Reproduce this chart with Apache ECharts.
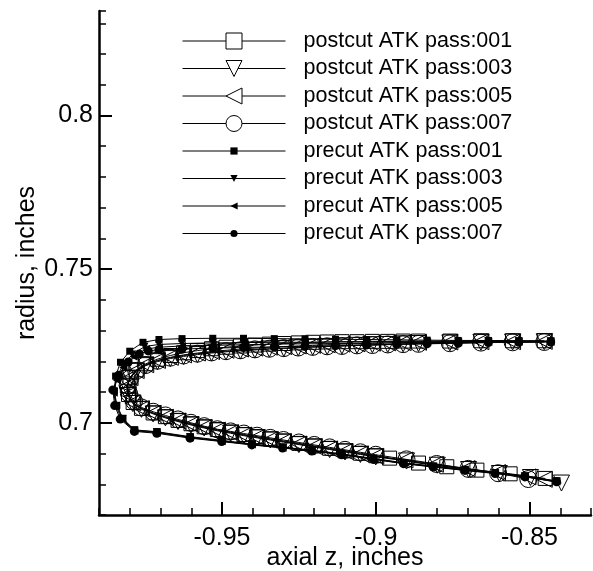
<!DOCTYPE html>
<html><head><meta charset="utf-8">
<script src="https://cdn.jsdelivr.net/npm/echarts@6/dist/echarts.min.js"></script>
<style>html,body{margin:0;padding:0;background:#fff}#c{width:593px;height:571px}</style>
</head><body><div id="c"></div>
<script>
// ---- tick labels ----
const xMajor = [-0.95, -0.9, -0.85];
const yMajor = [0.7, 0.75, 0.8];
const seriesNames = ['postcut ATK pass:001','postcut ATK pass:003','postcut ATK pass:005','postcut ATK pass:007',
  'precut ATK pass:001','precut ATK pass:003','precut ATK pass:005','precut ATK pass:007'];

// ---- postcut (shared grid positions) ----
const postZUpper = [-0.8452,-0.8555,-0.8658,-0.8759,-0.8861,-0.8911,-0.8961,-0.9011,-0.9061,-0.9110,-0.9158,-0.9205,-0.9252,-0.9299,-0.9346,-0.9393,-0.9440,-0.9487,-0.9534,-0.9580,-0.9625,-0.9668,-0.9710,-0.9748,-0.9779,-0.9799];
const postZLower = [-0.9762,-0.9724,-0.9684,-0.9643,-0.9601,-0.9558,-0.9515,-0.9472,-0.9429,-0.9386,-0.9343,-0.9300,-0.9250,-0.9200,-0.9150,-0.9100,-0.9050,-0.9000];

const post001Upper = [0.7267,0.7267,0.7267,0.7266,0.7266,0.7266,0.7265,0.7265,0.7264,0.7264,0.7263,0.7262,0.7260,0.7258,0.7256,0.7253,0.7250,0.7246,0.7241,0.7235,0.7228,0.7219,0.7207,0.7192,0.7172,0.7148];
const post003Upper = [0.7264,0.7263,0.7262,0.7260,0.7258,0.7257,0.7255,0.7254,0.7252,0.7250,0.7248,0.7246,0.7244,0.7242,0.7240,0.7237,0.7234,0.7231,0.7227,0.7222,0.7216,0.7209,0.7199,0.7186,0.7168,0.7145];
const post005Upper = [0.7265,0.7264,0.7264,0.7263,0.7262,0.7261,0.7260,0.7259,0.7257,0.7256,0.7254,0.7252,0.7250,0.7248,0.7246,0.7243,0.7240,0.7236,0.7232,0.7227,0.7221,0.7213,0.7203,0.7189,0.7170,0.7147];
const post007Upper = [0.7263,0.7262,0.7261,0.7259,0.7257,0.7256,0.7255,0.7253,0.7252,0.7250,0.7249,0.7247,0.7245,0.7243,0.7241,0.7239,0.7236,0.7233,0.7229,0.7225,0.7219,0.7212,0.7202,0.7188,0.7169,0.7144];

const post001Nose = [[-0.9808,0.7120],[-0.9804,0.7092],[-0.9789,0.7066]];
const post003Nose = [[-0.9810,0.7117],[-0.9806,0.7089],[-0.9791,0.7063]];
const post005Nose = [[-0.9809,0.7119],[-0.9805,0.7091],[-0.9790,0.7065]];
const post007Nose = [[-0.9807,0.7122],[-0.9802,0.7095],[-0.9786,0.7070]];

const post001Lower = [0.7047,0.7032,0.7020,0.7008,0.6997,0.6987,0.6978,0.6970,0.6962,0.6955,0.6948,0.6941,0.6933,0.6925,0.6917,0.6909,0.6901,0.6893];
const post003Lower = [0.7044,0.7029,0.7016,0.7004,0.6993,0.6983,0.6974,0.6966,0.6958,0.6951,0.6944,0.6937,0.6929,0.6921,0.6913,0.6905,0.6897,0.6889];
const post005Lower = [0.7046,0.7031,0.7018,0.7006,0.6995,0.6985,0.6976,0.6968,0.6960,0.6953,0.6946,0.6939,0.6931,0.6923,0.6915,0.6907,0.6899,0.6891];
const post007Lower = [0.7050,0.7036,0.7024,0.7011,0.7000,0.6989,0.6979,0.6972,0.6965,0.6958,0.6951,0.6944,0.6936,0.6928,0.6920,0.6912,0.6904,0.6896];

const post001Tail = [[-0.8955,0.6885],[-0.8861,0.6869],[-0.8769,0.6857],[-0.8671,0.6846],[-0.8563,0.6834],[-0.8449,0.6819]];
const post003Tail = [[-0.8900,0.6876],[-0.8800,0.6862],[-0.8698,0.6848],[-0.8598,0.6835],[-0.8497,0.6822],[-0.8396,0.6804]];
const post005Tail = [[-0.8905,0.6879],[-0.8806,0.6865],[-0.8703,0.6851],[-0.8604,0.6838],[-0.8505,0.6824],[-0.8452,0.6816]];
const post007Tail = [[-0.8900,0.6881],[-0.8802,0.6866],[-0.8699,0.6850],[-0.8602,0.6836],[-0.8504,0.6817]];

// ---- precut (shared grid positions) ----
const preZUpper = [-0.8431,-0.8535,-0.8634,-0.8732,-0.8833,-0.8932,-0.9030,-0.9131,-0.9230,-0.9330,-0.9430,-0.9530,-0.9630,-0.9705];
const preZLower = [-0.9785,-0.9712,-0.9604,-0.9501,-0.9403,-0.9303,-0.9208,-0.9111,-0.9008,-0.8910,-0.8813,-0.8710,-0.8612,-0.8515,-0.8412];

const pre001Upper = [0.7266,0.7267,0.7268,0.7268,0.7269,0.7270,0.7271,0.7272,0.7273,0.7274,0.7275,0.7275,0.7274,0.7271];
const pre003Upper = [0.7265,0.7265,0.7265,0.7264,0.7264,0.7264,0.7263,0.7263,0.7262,0.7262,0.7261,0.7260,0.7258,0.7255];
const pre005Upper = [0.7264,0.7264,0.7263,0.7262,0.7261,0.7260,0.7259,0.7258,0.7257,0.7256,0.7254,0.7252,0.7250,0.7246];
const pre007Upper = [0.7263,0.7262,0.7261,0.7259,0.7257,0.7255,0.7253,0.7251,0.7249,0.7247,0.7245,0.7243,0.7240,0.7238];

const pre001Nose = [[-0.9757,0.7262],[-0.9800,0.7233],[-0.9830,0.7197],[-0.9846,0.7152],[-0.9850,0.7104],[-0.9842,0.7057],[-0.9822,0.7014]];
const pre003Nose = [[-0.9752,0.7248],[-0.9792,0.7222],[-0.9824,0.7185],[-0.9844,0.7143],[-0.9851,0.7100],[-0.9843,0.7055],[-0.9823,0.7013]];
const pre005Nose = [[-0.9747,0.7240],[-0.9787,0.7215],[-0.9821,0.7180],[-0.9843,0.7139],[-0.9852,0.7098],[-0.9845,0.7054],[-0.9826,0.7012]];
const pre007Nose = [[-0.9740,0.7234],[-0.9769,0.7224],[-0.9805,0.7198],[-0.9836,0.7155],[-0.9855,0.7107],[-0.9849,0.7056],[-0.9831,0.7012]];

const pre001Lower = [0.6977,0.6971,0.6955,0.6943,0.6931,0.6921,0.6911,0.6899,0.6884,0.6870,0.6859,0.6848,0.6838,0.6827,0.6811];
const pre003Lower = [0.6976,0.6970,0.6953,0.6941,0.6930,0.6920,0.6910,0.6898,0.6883,0.6869,0.6858,0.6847,0.6837,0.6826,0.6810];
const pre005Lower = [0.6974,0.6968,0.6952,0.6940,0.6929,0.6919,0.6909,0.6897,0.6882,0.6868,0.6857,0.6846,0.6836,0.6825,0.6809];
const pre007Lower = [0.6972,0.6966,0.6950,0.6939,0.6928,0.6918,0.6908,0.6896,0.6881,0.6867,0.6856,0.6845,0.6835,0.6824,0.6808];

function pairs(z, r) { return z.map((v, i) => [v, r[i]]); }
function build(zu, ru, nose, zl, rl, tail) {
  return pairs(zu, ru).concat(nose, pairs(zl, rl), tail || []);
}
const dataSets = [
  build(postZUpper, post001Upper, post001Nose, postZLower, post001Lower, post001Tail),
  build(postZUpper, post003Upper, post003Nose, postZLower, post003Lower, post003Tail),
  build(postZUpper, post005Upper, post005Nose, postZLower, post005Lower, post005Tail),
  build(postZUpper, post007Upper, post007Nose, postZLower, post007Lower, post007Tail),
  build(preZUpper, pre001Upper, pre001Nose, preZLower, pre001Lower),
  build(preZUpper, pre003Upper, pre003Nose, preZLower, pre003Lower),
  build(preZUpper, pre005Upper, pre005Nose, preZLower, pre005Lower),
  build(preZUpper, pre007Upper, pre007Nose, preZLower, pre007Lower)
];
const symbols = ['rect','triangle','triangle','circle','rect','triangle','triangle','circle'];
const rotates = [0,180,90,0,0,180,90,0];
const sizes = [14,16,16,17,7,8,8,9];

const series = dataSets.map((d, i) => {
  const hollow = i < 4;
  return {
    name: seriesNames[i], type: 'line', data: d,
    symbol: symbols[i], symbolRotate: rotates[i], symbolSize: sizes[i], showAllSymbol: true,
    lineStyle: { color: '#000', width: 1 },
    itemStyle: hollow ? { color: 'rgba(0,0,0,0)', borderColor: '#000', borderWidth: 1 }
                      : { color: '#000', borderColor: '#000', borderWidth: 0 },
    emphasis: { disabled: true }, animation: false, z: hollow ? 2 : 3
  };
});

function fmt(majors) {
  return v => { const r = Math.round(v * 1000) / 1000; return majors.some(m => Math.abs(m - r) < 1e-6) ? String(r) : ''; };
}
const font = 'Liberation Sans, Arial, sans-serif';
const chart = echarts.init(document.getElementById('c'), null, { renderer: 'canvas' });
const legendCommon = {
  orient: 'vertical', left: 182, padding: 0, itemWidth: 103, itemGap: 5.5, selectedMode: false,
  textStyle: { fontSize: 21.5, lineHeight: 22, fontFamily: font, color: '#000', padding: [0, 0, 0, 13] },
  lineStyle: { color: '#000', width: 1 }
};
chart.setOption({
  animation: false,
  backgroundColor: '#fff',
  grid: { left: 99, top: 11, width: 492, height: 504, containLabel: false, outerBoundsMode: 'none' },
  legend: [
    Object.assign({}, legendCommon, { top: 30, data: seriesNames.slice(0, 4), itemHeight: 20,
      itemStyle: { color: '#fff', borderColor: '#000', borderWidth: 1 } }),
    Object.assign({}, legendCommon, { top: 140, data: seriesNames.slice(4), itemHeight: 9 })
  ],
  xAxis: [
    { type: 'value', position: 'bottom', min: -0.99, max: -0.83, interval: 0.01,
      axisLine: { show: true, lineStyle: { color: '#000', width: 2.5 } },
      axisTick: { show: true, inside: true, length: 7, lineStyle: { color: '#000', width: 1.5 } },
      axisLabel: { formatter: fmt(xMajor), fontSize: 25, fontFamily: font, color: '#000', margin: 11 },
      splitLine: { show: false },
      name: 'axial z, inches', nameLocation: 'middle', nameGap: 31, nameMoveOverlap: false,
      nameTextStyle: { fontSize: 25, fontFamily: font, color: '#000' } },
    { type: 'value', position: 'bottom', min: -0.99, max: -0.83,
      axisLine: { show: false },
      axisTick: { show: true, inside: true, length: 13, customValues: xMajor, lineStyle: { color: '#000', width: 2 } },
      axisLabel: { show: false }, splitLine: { show: false } }
  ],
  yAxis: [
    { type: 'value', position: 'left', min: 0.67, max: 0.834, interval: 0.01,
      axisLine: { show: true, lineStyle: { color: '#000', width: 2.5 } },
      axisTick: { show: true, inside: true, length: 7, lineStyle: { color: '#000', width: 1.5 } },
      axisLabel: { formatter: fmt(yMajor), fontSize: 25, fontFamily: font, color: '#000', margin: 6 },
      splitLine: { show: false },
      name: 'radius, inches', nameLocation: 'middle', nameGap: 59, nameMoveOverlap: false,
      nameTextStyle: { fontSize: 25, fontFamily: font, color: '#000' } },
    { type: 'value', position: 'left', min: 0.67, max: 0.834,
      axisLine: { show: false },
      axisTick: { show: true, inside: true, length: 13, customValues: yMajor, lineStyle: { color: '#000', width: 2 } },
      axisLabel: { show: false }, splitLine: { show: false } }
  ],
  series: series
});
</script></body></html>
